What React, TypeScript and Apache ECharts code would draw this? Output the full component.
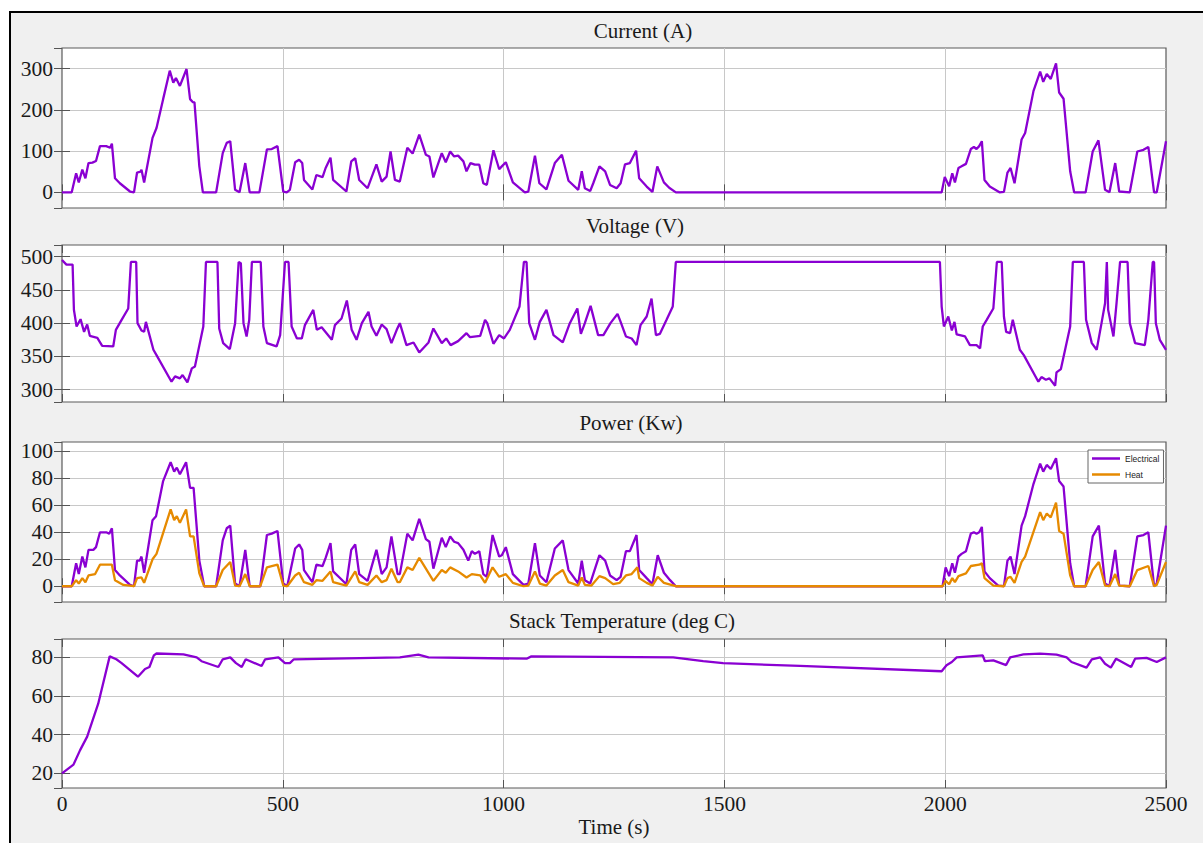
import React, { useEffect, useRef } from 'react';
import * as echarts from 'echarts';

const SERIF = '"Liberation Serif", "Times New Roman", serif';
const SANS = '"Liberation Sans", Arial, sans-serif';
const PURPLE = '#8a00d2';
const ORANGE = '#e68a00';

const panelTitles = ['Current (A)', 'Voltage (V)', 'Power (Kw)', 'Stack Temperature (deg C)'];
const xLabel = 'Time (s)';
const legendNames = ['Electrical', 'Heat'];

const current: [number, number][] = [[0,0],[22,0],[32,46],[38,24],[46,55],[53,34],[60,71],[69,72],[77,76],[86,112],[100,112],[109,108],[113,118],[120,34],[131,22],[154,2],[163,0],[170,48],[178,50],[180,55],[186,24],[205,132],[214,156],[229,226],[244,295],[252,266],[258,277],[267,258],[282,299],[290,226],[296,219],[300,218],[311,63],[319,0],[349,0],[364,95],[373,120],[381,124],[392,6],[402,0],[415,71],[425,0],[447,0],[464,104],[475,105],[488,112],[501,2],[509,0],[516,6],[528,73],[537,79],[544,71],[548,30],[567,7],[576,42],[590,37],[597,59],[608,84],[614,30],[644,2],[655,75],[664,83],[673,30],[692,10],[712,68],[724,26],[735,38],[744,99],[754,30],[765,26],[782,108],[794,94],[809,140],[824,91],[832,87],[841,36],[860,95],[869,73],[879,99],[888,87],[897,89],[909,75],[916,51],[925,71],[935,67],[945,67],[954,22],[962,18],[977,102],[990,56],[996,63],[1005,73],[1021,24],[1048,0],[1056,2],[1071,89],[1081,22],[1097,7],[1116,71],[1132,91],[1147,28],[1169,6],[1177,51],[1184,10],[1196,3],[1203,22],[1217,63],[1230,51],[1241,18],[1256,10],[1265,22],[1275,68],[1286,71],[1300,101],[1307,34],[1324,14],[1337,1],[1348,63],[1363,24],[1375,11],[1390,0],[1992,0],[1999,37],[2009,15],[2016,46],[2022,24],[2030,59],[2037,63],[2047,69],[2058,105],[2065,110],[2071,105],[2077,112],[2083,124],[2089,30],[2101,14],[2123,0],[2133,1],[2141,48],[2148,59],[2157,22],[2173,128],[2181,144],[2200,246],[2215,293],[2222,268],[2230,287],[2239,275],[2251,313],[2258,242],[2268,227],[2283,51],[2292,0],[2318,0],[2334,99],[2347,126],[2362,6],[2372,0],[2385,71],[2394,2],[2418,0],[2435,99],[2449,103],[2460,110],[2473,0],[2479,0],[2500,124]];

const voltage: [number, number][] = [[0,495],[10,488],[24,488],[27,420],[33,395],[42,406],[50,387],[57,398],[63,381],[80,378],[91,366],[116,365],[122,390],[135,405],[150,422],[156,492],[168,492],[171,400],[180,389],[186,387],[190,402],[207,360],[214,352],[248,312],[256,320],[267,317],[273,322],[284,311],[294,332],[301,335],[320,395],[326,492],[352,492],[356,392],[365,370],[380,361],[392,400],[400,492],[405,490],[411,400],[418,380],[424,405],[430,492],[450,492],[456,395],[464,370],[486,365],[494,382],[505,492],[513,492],[520,395],[532,377],[543,377],[550,397],[569,420],[577,390],[588,394],[611,375],[618,397],[633,407],[645,434],[656,390],[667,375],[679,400],[694,417],[701,395],[712,381],[724,398],[735,391],[746,370],[758,390],[765,400],[780,367],[796,371],[809,356],[830,371],[841,392],[860,370],[870,377],[880,367],[897,373],[916,385],[924,379],[947,381],[958,405],[963,400],[977,369],[990,382],[1001,377],[1014,390],[1036,425],[1046,492],[1052,492],[1058,400],[1071,375],[1082,402],[1097,420],[1113,382],[1134,371],[1150,400],[1167,422],[1175,384],[1184,400],[1197,426],[1214,382],[1226,382],[1242,400],[1258,414],[1265,402],[1277,380],[1290,377],[1301,367],[1310,397],[1324,410],[1335,437],[1345,382],[1354,384],[1369,405],[1383,425],[1390,492],[1988,492],[1992,425],[1997,395],[2007,410],[2015,389],[2021,402],[2026,383],[2045,380],[2056,367],[2071,367],[2079,362],[2085,395],[2094,405],[2109,422],[2117,492],[2128,492],[2133,410],[2138,387],[2147,385],[2153,405],[2169,360],[2178,352],[2211,312],[2218,319],[2228,315],[2236,317],[2249,306],[2252,326],[2262,331],[2283,395],[2289,492],[2314,492],[2319,405],[2332,370],[2343,360],[2354,400],[2362,430],[2366,492],[2369,420],[2381,380],[2388,430],[2396,492],[2413,492],[2418,400],[2430,370],[2452,367],[2460,405],[2470,492],[2473,492],[2477,400],[2486,375],[2500,360]];

const electrical: [number, number][] = [[0,0],[22,0],[32,17],[38,9],[46,22],[53,14],[60,27],[71,27],[77,29],[86,40],[100,40],[107,39],[113,43],[120,12],[131,8],[154,1],[163,0],[170,19],[176,19],[180,22],[186,10],[205,49],[213,52],[229,78],[246,92],[254,85],[260,88],[267,83],[281,92],[290,73],[298,73],[311,19],[322,0],[349,0],[364,34],[373,43],[381,45],[392,2],[402,0],[415,27],[425,0],[449,0],[464,38],[475,39],[488,41],[501,2],[510,0],[528,28],[537,31],[544,27],[548,12],[567,3],[576,16],[590,15],[597,21],[608,32],[614,11],[644,1.5],[655,27],[664,31],[673,9],[692,4],[712,27],[724,9],[735,14],[746,37],[760,9],[765,9],[782,39],[794,34],[809,50],[824,35],[832,33],[841,13],[860,36],[869,29],[879,37],[888,33],[897,32],[909,27],[920,19],[928,26],[935,24],[945,26],[954,9],[962,7],[975,38],[990,22],[996,23],[1005,29],[1021,9],[1045,1],[1056,2],[1071,32],[1082,8],[1097,3],[1116,28],[1134,34],[1147,12],[1169,2],[1177,19],[1184,4.5],[1196,2],[1203,9],[1217,23],[1230,19],[1241,8],[1256,4.5],[1265,7],[1277,26],[1286,26],[1301,38],[1307,12],[1324,6],[1337,1.5],[1349,23],[1363,10],[1377,4.5],[1390,0],[1994,0],[2001,14],[2009,7.5],[2016,17],[2022,10],[2030,22],[2037,24],[2047,26],[2058,39],[2065,40],[2071,39],[2077,40],[2083,44],[2089,11],[2101,6],[2120,0.5],[2133,0],[2141,19],[2148,22],[2157,9],[2173,45],[2181,52],[2200,76],[2215,91],[2222,85],[2230,90],[2239,87],[2251,95],[2258,78],[2268,74],[2283,17],[2292,0],[2318,0],[2334,37],[2348,45],[2362,2],[2372,0],[2385,27],[2394,0.5],[2418,0],[2435,37],[2449,38],[2460,40],[2473,0],[2479,2],[2500,45]];

const heat: [number, number][] = [[0,0],[22,0],[32,4.5],[38,2],[46,6],[53,3],[60,8],[75,9],[86,16],[113,16],[120,4.5],[139,1],[163,0],[170,6],[180,6.5],[186,2.5],[205,20],[214,24],[246,57],[254,49],[260,52],[267,47],[281,57],[290,37],[298,37],[311,9.5],[322,0],[349,0],[364,12],[381,18],[392,0.5],[402,0],[415,9],[425,0],[449,0],[464,14],[488,16],[501,0.5],[510,0],[528,8],[537,10],[548,3],[567,1],[576,4.5],[590,4],[608,11],[614,3],[644,0.5],[664,11],[673,3],[692,1],[712,8],[724,3],[735,4.5],[746,13],[760,3],[765,3],[782,14],[794,12],[809,21],[824,13],[841,4],[860,12],[869,10],[879,14],[897,11],[916,6.5],[928,9],[947,8],[958,2.5],[975,14],[990,7],[1005,9],[1021,2.5],[1045,0],[1056,0.5],[1071,11],[1082,2],[1097,0.5],[1116,8],[1134,12],[1147,3],[1169,0.5],[1177,6.5],[1184,1],[1199,0.5],[1217,7.5],[1230,6],[1248,1.5],[1263,2.5],[1277,8],[1290,9],[1303,14],[1307,6],[1324,2.5],[1337,0.5],[1349,7],[1363,2.5],[1390,0],[1994,0],[2001,4],[2009,1.5],[2016,6],[2022,3],[2030,7.5],[2047,9.5],[2058,15],[2077,16],[2083,17],[2089,6],[2109,0.5],[2133,0],[2141,6],[2148,7],[2157,2.5],[2173,18],[2181,22],[2215,55],[2222,49],[2230,54],[2239,51],[2251,62],[2258,41],[2268,39],[2283,8],[2292,0],[2318,0],[2334,12],[2348,18],[2362,0.5],[2372,0],[2385,9],[2394,0.5],[2418,0],[2435,12],[2460,15],[2473,0],[2479,1],[2500,18]];

const temperature: [number, number][] = [[0,20],[26,24.5],[41,32],[57,39],[82,56],[108,80.5],[123,79],[135,77],[172,70],[188,74],[198,75],[208,81],[214,82],[275,81.5],[305,80],[316,78],[354,75],[364,79],[381,80],[394,77],[407,75],[416,79],[452,75.5],[460,79],[490,80],[505,77],[516,77],[525,79],[765,80],[807,81.4],[830,80],[1052,79.3],[1063,80.5],[1384,80],[1452,78],[1497,77],[1671,75.6],[1992,72.8],[2003,75.9],[2015,77.6],[2026,80],[2085,81],[2090,78],[2109,78.4],[2138,76],[2147,80],[2177,81.5],[2215,81.9],[2252,81.4],[2275,80],[2286,77.6],[2320,74.7],[2332,79],[2351,80],[2362,76.7],[2375,74.7],[2387,79.3],[2421,75],[2430,79.3],[2456,79.7],[2479,77.6],[2500,80]];

// y-axis ranges [min, max, splitNumber]
const yRanges: [number, number, number][] = [[-38, 350, 4], [281.5, 517.5, 5], [-11.7, 107, 5], [12.4, 89.5, 4]];
const xMin = 0, xMax = 2500, xStep = 500;

const gridBoxes = [
  { top: 48, height: 160 },
  { top: 245, height: 157 },
  { top: 442, height: 160 },
  { top: 639, height: 149 },
];
const titlePos = [
  { x: 643, y: 31 },
  { x: 635, y: 226 },
  { x: 631, y: 423 },
  { x: 622, y: 621 },
];

export default function App() {
  const ref = useRef<HTMLDivElement>(null);
  useEffect(() => {
    if (!ref.current) return;
    const chart = echarts.init(ref.current, null, { renderer: 'svg' });
    const tickStyle = { inside: true, length: 8, lineStyle: { color: '#555', width: 1 } };
    const gridLine = { show: true, showMinLine: false, showMaxLine: false, lineStyle: { color: '#c8c8c8', width: 1 } };
    const plain = (v: number) => String(v);
    const grids = gridBoxes.map((g) => ({
      left: 62, width: 1104, top: g.top, height: g.height, show: true,
      backgroundColor: '#ffffff', borderColor: '#5a5a5a', borderWidth: 1.2,
    }));
    const xAxes: any[] = [];
    const yAxes: any[] = [];
    gridBoxes.forEach((_, i) => {
      xAxes.push({
        gridIndex: i, type: 'value', min: xMin, max: xMax, interval: xStep, position: 'bottom',
        axisLine: { show: false }, axisTick: tickStyle, splitLine: gridLine,
        axisLabel: i === 3
          ? { show: true, fontFamily: SERIF, fontSize: 21.5, color: '#1a1a1a', margin: 5, formatter: plain }
          : { show: false },
        name: i === 3 ? xLabel : '', nameLocation: 'middle', nameGap: 28,
        nameTextStyle: { fontFamily: SERIF, fontSize: 21, color: '#1a1a1a' },
      });
      yAxes.push({
        gridIndex: i, type: 'value', min: yRanges[i][0], max: yRanges[i][1], splitNumber: yRanges[i][2],
        position: 'left', axisLine: { show: false }, axisTick: tickStyle, splitLine: gridLine,
        axisLabel: { fontFamily: SERIF, fontSize: 21.5, color: '#1a1a1a', margin: 9, showMinLabel: false, showMaxLabel: false, formatter: plain },
      });
    });
    gridBoxes.forEach((_, i) => {
      xAxes.push({
        gridIndex: i, type: 'value', min: xMin, max: xMax, interval: xStep, position: 'top',
        axisLine: { show: false }, axisTick: tickStyle, splitLine: { show: false }, axisLabel: { show: false },
      });
      yAxes.push({
        gridIndex: i, type: 'value', min: yRanges[i][0], max: yRanges[i][1], splitNumber: yRanges[i][2],
        position: 'right', axisLine: { show: false }, axisTick: tickStyle, splitLine: { show: false }, axisLabel: { show: false },
      });
    });
    const mk = (name: string, data: [number, number][], idx: number, color: string) => ({
      name, type: 'line', xAxisIndex: idx, yAxisIndex: idx, data, symbol: 'none', showSymbol: false,
      lineStyle: { color, width: 2.3 }, itemStyle: { color }, z: 3,
    });
    const option: any = {
      animation: false,
      backgroundColor: '#f0f0f0',
      grid: grids,
      xAxis: xAxes,
      yAxis: yAxes,
      legend: {
        data: legendNames, orient: 'vertical', left: 1088, top: 450, icon: 'rect',
        padding: [3, 4, 3, 4], itemGap: 5, itemWidth: 28, itemHeight: 2.5,
        backgroundColor: '#ffffff', borderColor: '#666', borderWidth: 1,
        textStyle: { fontFamily: SANS, fontSize: 8.5, color: '#222', lineHeight: 11 },
      },
      series: [
        mk('Current', current, 0, PURPLE),
        mk('Voltage', voltage, 1, PURPLE),
        mk(legendNames[0], electrical, 2, PURPLE),
        mk(legendNames[1], heat, 2, ORANGE),
        mk('Temperature', temperature, 3, PURPLE),
      ],
      graphic: [
        { type: 'rect', shape: { x: 0, y: 0, width: 1203, height: 11 }, style: { fill: '#ffffff' }, silent: true },
        { type: 'rect', shape: { x: 0, y: 0, width: 9, height: 843 }, style: { fill: '#ffffff' }, silent: true },
        { type: 'line', shape: { x1: 9, y1: 12, x2: 1203, y2: 12 }, style: { stroke: '#000', lineWidth: 2 }, silent: true },
        { type: 'line', shape: { x1: 10, y1: 11, x2: 10, y2: 843 }, style: { stroke: '#000', lineWidth: 2 }, silent: true },
        ...panelTitles.map((t, i) => ({
          type: 'text', x: titlePos[i].x, y: titlePos[i].y, silent: true,
          style: { text: t, fontFamily: SERIF, fontSize: 21, fill: '#1a1a1a', textAlign: 'center', textVerticalAlign: 'middle' },
        })),
      ],
    };
    chart.setOption(option);
    return () => chart.dispose();
  }, []);
  return <div ref={ref} style={{ position: 'fixed', left: 0, top: 0, width: 1203, height: 843 }} />;
}
